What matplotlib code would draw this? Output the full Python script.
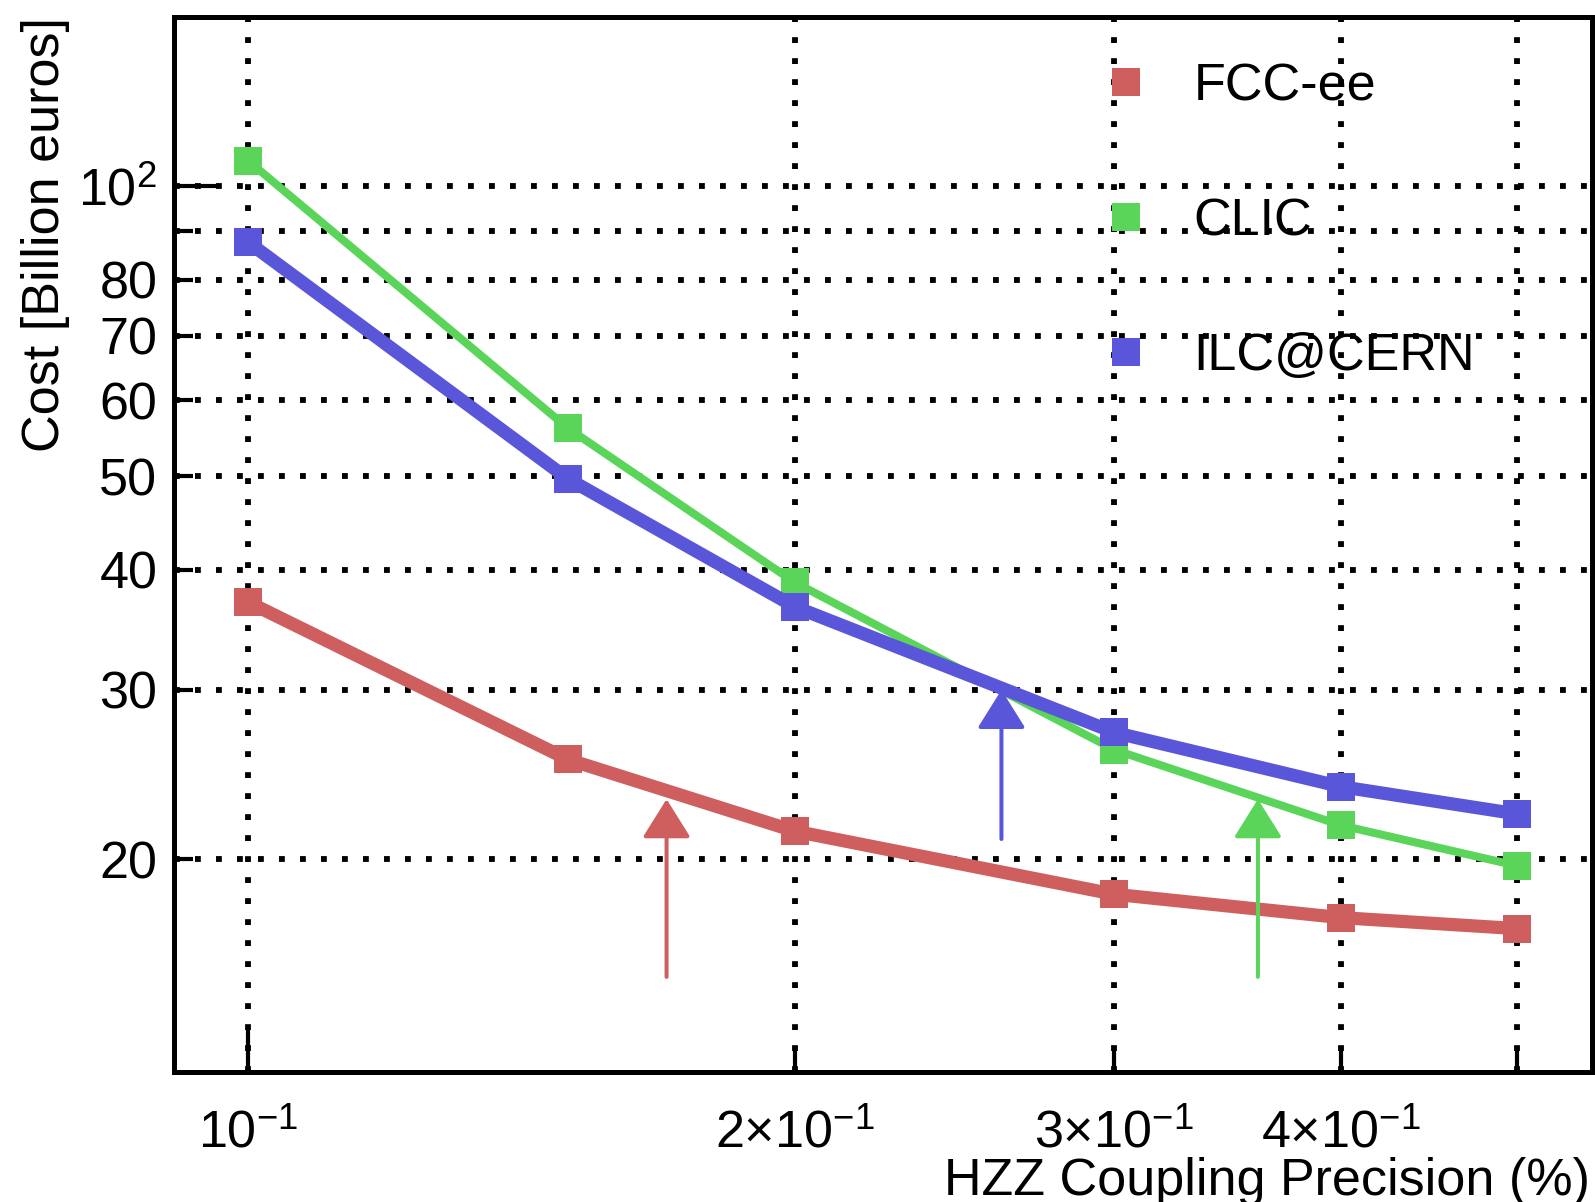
import matplotlib
matplotlib.use("Agg")
import matplotlib.pyplot as plt
from matplotlib.lines import Line2D

plt.rcParams['font.family'] = ['Liberation Sans', 'DejaVu Sans']
plt.rcParams['mathtext.fontset'] = 'custom'
plt.rcParams['mathtext.rm'] = 'Liberation Sans'
plt.rcParams['mathtext.it'] = 'Liberation Sans:italic'
plt.rcParams['mathtext.bf'] = 'Liberation Sans:bold'

# data
precision = [0.1, 0.15, 0.2, 0.3, 0.4, 0.5]
cost_fcc = [37.0, 25.4, 21.4, 18.4, 17.4, 16.95]
cost_clic = [106.3, 56.1, 38.8, 26.0, 21.7, 19.7]
cost_ilc = [87.5, 49.7, 36.6, 27.1, 23.8, 22.3]

# arrows: x, start cost, end cost
arrow_fcc = (0.170, 15.1, 23.1)
arrow_clic = (0.360, 15.1, 23.1)
arrow_ilc = (0.260, 21.0, 30.0)

labels = ['FCC-ee', 'CLIC', 'ILC@CERN']
colors = ['#cf5e5e', '#5ad55a', '#5a56d9']
widths = [9.5, 5.8, 9.5]

x_major = [0.1]
x_major_labels = [r'$\mathregular{10^{-1}}$']
x_minor = [0.2, 0.3, 0.4, 0.5]
x_minor_labels = [r'$\mathregular{2{\times}10^{-1}}$', r'$\mathregular{3{\times}10^{-1}}$',
                  r'$\mathregular{4{\times}10^{-1}}$', '']
y_major = [100]
y_major_labels = [r'$\mathregular{10^{2}}$']
y_minor = [20, 30, 40, 50, 60, 70, 80, 90]
y_minor_labels = ['20', '30', '40', '50', '60', '70', '80', '']

fs = 37.5

fig = plt.figure(figsize=(15.95, 12.02), dpi=100)
ax = fig.add_axes([0.1091, 0.1082, 0.9981 - 0.1091, 0.9859 - 0.1082])
ax.set_xscale('log')
ax.set_yscale('log')
ax.set_xlim(0.091, 0.550)
ax.set_ylim(12.03, 150)

ax.set_xticks(x_major, x_major_labels)
ax.set_xticks(x_minor, x_minor_labels, minor=True)
ax.set_yticks(y_major, y_major_labels)
ax.set_yticks(y_minor, y_minor_labels, minor=True)
ax.tick_params(which='both', direction='in', width=3, labelsize=fs, color='black')
ax.tick_params(axis='y', which='major', length=32, pad=12)
ax.tick_params(axis='y', which='minor', length=14, pad=12)
ax.tick_params(axis='x', which='major', length=32, pad=27)
ax.tick_params(axis='x', which='minor', length=15, pad=27)

ax.set_axisbelow(True)
ax.grid(True, which='both', color='black', linewidth=4.2, linestyle=(0, (1, 2.6)))
for sp in ax.spines.values():
    sp.set_linewidth(3.6)

series = [cost_fcc, cost_clic, cost_ilc]
for vals, c, lw in zip(series, colors, widths):
    ax.plot(precision, vals, color=c, linewidth=lw, marker='s', markersize=19.5,
            markeredgewidth=0, solid_capstyle='butt', zorder=3)

for (xa, y0, y1), c in zip([arrow_fcc, arrow_clic, arrow_ilc], colors):
    ax.annotate('', xy=(xa, y1), xytext=(xa, y0),
                arrowprops=dict(arrowstyle='-|>,head_length=24,head_width=15',
                                mutation_scale=1, color=c, linewidth=2.9,
                                shrinkA=0, shrinkB=0),
                zorder=4)

handles = [Line2D([], [], linestyle='none', marker='s', markersize=19.5,
                  markeredgewidth=0, color=c) for c in colors]
ax.legend(handles, labels, loc='upper left', bbox_to_anchor=(0.653, 0.957),
          frameon=False, fontsize=fs, handlelength=1.0, handletextpad=0.8,
          labelspacing=1.65, borderpad=0, borderaxespad=0)

fig.text(46 / 1595, 0.9859, 'Cost [Billion euros]', rotation=90, ha='center',
         va='top', fontsize=fs)
fig.text(1590 / 1595, 7 / 1202, 'HZZ Coupling Precision (%)', ha='right',
         va='baseline', fontsize=fs)

fig.savefig('out.png', dpi=100)
